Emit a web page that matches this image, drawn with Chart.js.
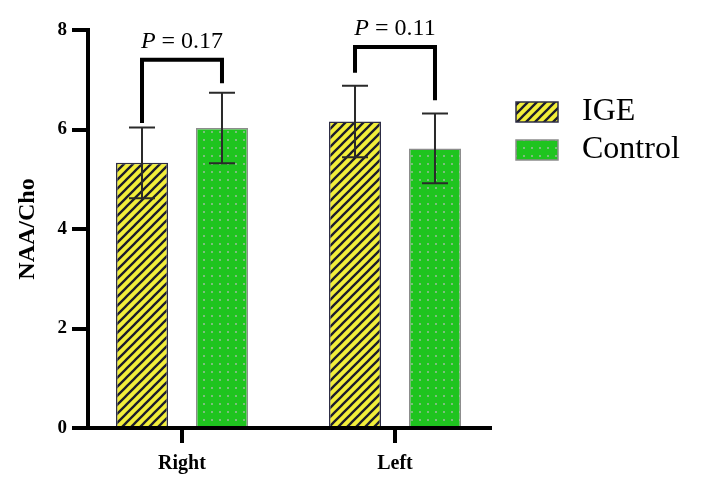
<!DOCTYPE html>
<html>
<head>
<meta charset="utf-8">
<script src="https://cdn.jsdelivr.net/npm/chart.js@4.4.0/dist/chart.umd.min.js"></script>
<style>
  html, body { margin: 0; padding: 0; background: #fff; }
  #wrap { width: 702px; height: 493px; }
</style>
</head>
<body>
<div id="wrap"><canvas id="naa-cho"></canvas></div>
<script>
// values
const categories = ['Right', 'Left'];
const seriesNames = ['IGE', 'Control'];
const igeMean = [5.33, 6.16];
const igeSD = [0.71, 0.72];
const controlMean = [6.03, 5.62];
const controlSD = [0.71, 0.70];
const yTicks = [0, 2, 4, 6, 8];
const pValues = ['0.17', '0.11'];
// significance brackets, in NAA/Cho units
const bracketTop = [7.40, 7.66];
const bracketLeftEnd = [6.13, 7.14];
const bracketRightEnd = [6.93, 6.59];
// x range around the two groups (group index 0 and 1)
const xMin = -0.4413;
const xMax = 1.4460;

const SERIF = '"Liberation Serif", "Times New Roman", serif';

function hatchPattern() {
    const s = 9;
    const c = document.createElement('canvas');
    c.width = s; c.height = s;
    const g = c.getContext('2d');
    g.fillStyle = '#f2ee3a';
    g.fillRect(0, 0, s, s);
    g.strokeStyle = '#1c1c2c';
    g.lineWidth = 2.3;
    g.beginPath();
    g.moveTo(-1, s + 1); g.lineTo(s + 1, -1);
    g.moveTo(-2, 2); g.lineTo(2, -2);
    g.moveTo(s - 2, s + 2); g.lineTo(s + 2, s - 2);
    g.stroke();
    return g.createPattern(c, 'repeat');
}

function dotPattern() {
    const s = 8;
    const c = document.createElement('canvas');
    c.width = s; c.height = s;
    const g = c.getContext('2d');
    g.fillStyle = '#1fc41f';
    g.fillRect(0, 0, s, s);
    g.fillStyle = '#7dbd7d';
    g.fillRect(3, 3, 2, 2);
    return g.createPattern(c, 'repeat');
}

function points(values) {
    return values.map((v, i) => ({ x: i, y: v }));
}

// error bars (mean +/- SD) drawn through the y scale
const errorBars = {
    id: 'errorBars',
    afterDatasetsDraw(chart) {
        const ctx = chart.ctx;
        const y = chart.scales.y;
        ctx.save();
        ctx.strokeStyle = '#2a2a2a';
        ctx.lineWidth = 2;
        chart.data.datasets.forEach((ds, i) => {
            chart.getDatasetMeta(i).data.forEach((bar, j) => {
                const hi = y.getPixelForValue(ds.data[j].y + ds.sd[j]);
                const lo = y.getPixelForValue(ds.data[j].y - ds.sd[j]);
                ctx.beginPath();
                ctx.moveTo(bar.x, hi); ctx.lineTo(bar.x, lo);
                ctx.moveTo(bar.x - 13, hi); ctx.lineTo(bar.x + 13, hi);
                ctx.moveTo(bar.x - 13, lo); ctx.lineTo(bar.x + 13, lo);
                ctx.stroke();
            });
        });
        ctx.restore();
    }
};

// P-value brackets over each group
const brackets = {
    id: 'brackets',
    afterDatasetsDraw(chart) {
        const ctx = chart.ctx;
        const y = chart.scales.y;
        const a = chart.getDatasetMeta(0).data;
        const b = chart.getDatasetMeta(1).data;
        ctx.save();
        ctx.strokeStyle = '#000';
        ctx.lineWidth = 4;
        ctx.lineJoin = 'miter';
        categories.forEach((c, j) => {
            const top = y.getPixelForValue(bracketTop[j]);
            ctx.beginPath();
            ctx.moveTo(a[j].x, y.getPixelForValue(bracketLeftEnd[j]));
            ctx.lineTo(a[j].x, top);
            ctx.lineTo(b[j].x, top);
            ctx.lineTo(b[j].x, y.getPixelForValue(bracketRightEnd[j]));
            ctx.stroke();

            const cx = (a[j].x + b[j].x) / 2;
            const italic = 'italic 24px ' + SERIF;
            const regular = '24px ' + SERIF;
            const rest = ' = ' + pValues[j];
            ctx.font = italic;
            const wP = ctx.measureText('P').width;
            ctx.font = regular;
            const wR = ctx.measureText(rest).width;
            const x0 = cx - (wP + wR) / 2;
            const ty = top - 18.5;
            ctx.fillStyle = '#000';
            ctx.textAlign = 'left';
            ctx.textBaseline = 'middle';
            ctx.font = italic;
            ctx.fillText('P', x0, ty);
            ctx.font = regular;
            ctx.fillText(rest, x0 + wP, ty);
        });
        ctx.restore();
    }
};

// legend to the right of the plot
const sideLegend = {
    id: 'sideLegend',
    afterDraw(chart) {
        const ctx = chart.ctx;
        ctx.save();
        chart.data.datasets.forEach((ds, i) => {
            const top = 102 + i * 38;
            ctx.fillStyle = ds.backgroundColor;
            ctx.fillRect(516, top, 42, 20);
            ctx.strokeStyle = ds.borderColor;
            ctx.lineWidth = 1.5;
            ctx.strokeRect(516, top, 42, 20);
            ctx.fillStyle = '#000';
            ctx.font = '32px ' + SERIF;
            ctx.textAlign = 'left';
            ctx.textBaseline = 'middle';
            ctx.fillText(ds.label, 582, top + 10);
        });
        ctx.restore();
    }
};

document.addEventListener('DOMContentLoaded', function() {
    const ctx = document.getElementById('naa-cho');
    new Chart(ctx, {
        type: 'bar',
        data: {
            datasets: [{
                label: seriesNames[0],
                data: points(igeMean),
                sd: igeSD,
                backgroundColor: hatchPattern(),
                borderColor: '#2c2c44',
                borderWidth: 1.5,
                categoryPercentage: 0.751,
                barPercentage: 0.65
            }, {
                label: seriesNames[1],
                data: points(controlMean),
                sd: controlSD,
                backgroundColor: dotPattern(),
                borderColor: '#8c8c8c',
                borderWidth: 1.5,
                categoryPercentage: 0.751,
                barPercentage: 0.65
            }]
        },
        options: {
            responsive: true,
            maintainAspectRatio: false,
            animation: false,
            layout: { padding: { top: 30, right: 212, left: 0, bottom: 0 } },
            plugins: {
                legend: { display: false },
                tooltip: { enabled: false }
            },
            scales: {
                x: {
                    type: 'linear',
                    min: xMin,
                    max: xMax,
                    offset: false,
                    afterBuildTicks: s => { s.ticks = categories.map((c, i) => ({ value: i })); },
                    afterFit: s => { s.height = 65; },
                    grid: { offset: false, drawOnChartArea: false, tickLength: 15, lineWidth: 4, color: '#000' },
                    border: { width: 4, color: '#000' },
                    ticks: {
                        autoSkip: false,
                        maxRotation: 0,
                        padding: 9,
                        color: '#000',
                        font: { family: SERIF, size: 20, weight: 'bold' },
                        callback: v => categories[v]
                    }
                },
                y: {
                    min: 0,
                    max: 8,
                    afterBuildTicks: s => { s.ticks = yTicks.map(v => ({ value: v })); },
                    afterFit: s => { s.width = 88; },
                    grid: { drawOnChartArea: false, tickLength: 16, lineWidth: 4, color: '#000' },
                    border: { width: 4, color: '#000' },
                    ticks: {
                        padding: 5,
                        color: '#000',
                        font: { family: SERIF, size: 19, weight: 'bold' }
                    },
                    title: {
                        display: true,
                        text: 'NAA/Cho',
                        color: '#000',
                        font: { family: SERIF, size: 24, weight: 'bold' },
                        padding: { top: 13, bottom: 0 }
                    }
                }
            }
        },
        plugins: [errorBars, brackets, sideLegend]
    });
});
</script>
</body>
</html>
